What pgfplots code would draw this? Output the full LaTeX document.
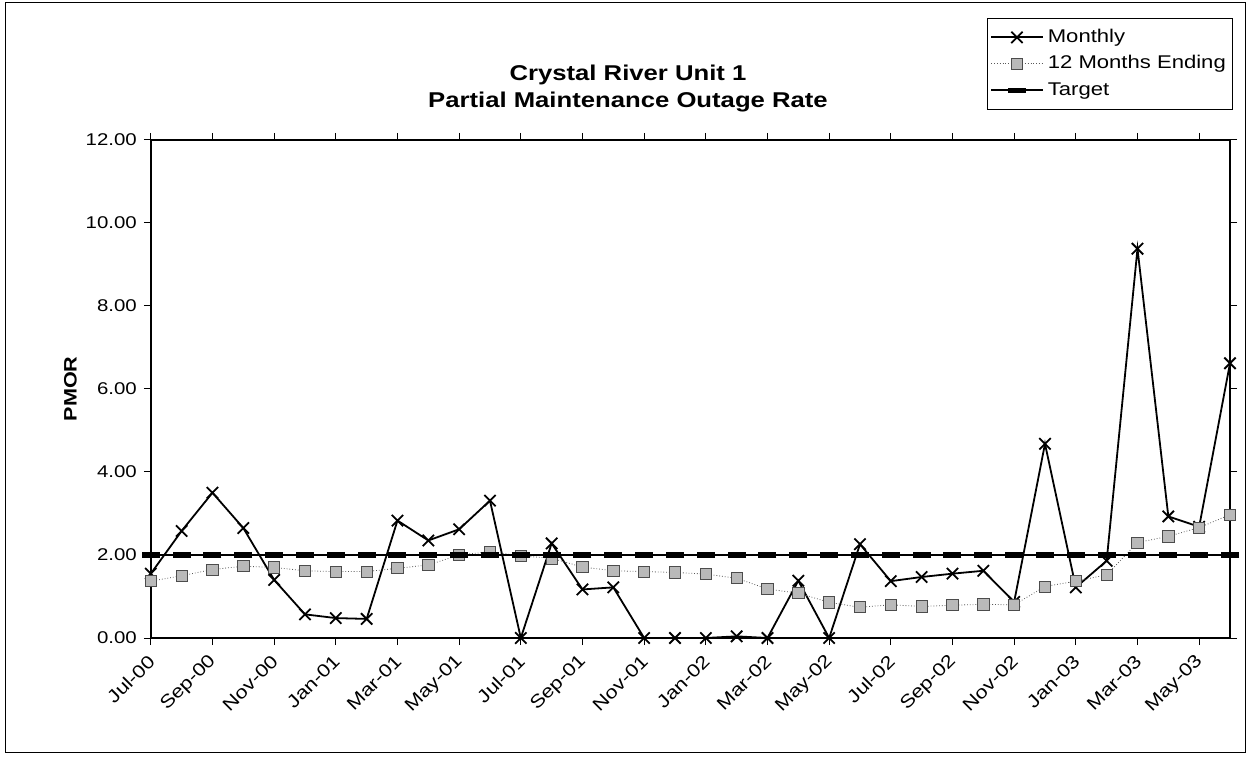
\documentclass[border=0pt]{standalone}
\usepackage{pgfplots}
\pgfplotsset{compat=1.18}
\usepackage{fontspec}
\setmainfont{Liberation Sans}[FakeStretch=1.2]

\begin{document}
\begin{tikzpicture}
\path[use as bounding box] (0,0) rectangle (624.5pt,378pt);
\draw[line width=0.5pt] (2.5pt,2pt) rectangle (622.5pt,376.5pt);

\node[font=\fontsize{10.7}{13.5}\selectfont\bfseries, align=center] at (314pt,333.5pt)
    {Crystal River Unit 1\\Partial Maintenance Outage Rate};

\begin{axis}[
    at={(75.4pt,59pt)}, anchor=south west,
    scale only axis,
    width=539.6pt, height=249pt,
    xmin=0, xmax=35,
    ymin=0, ymax=12,
    xtick={0,2,...,34},
    xticklabels={Jul-00,Sep-00,Nov-00,Jan-01,Mar-01,May-01,Jul-01,Sep-01,Nov-01,
                 Jan-02,Mar-02,May-02,Jul-02,Sep-02,Nov-02,Jan-03,Mar-03,May-03},
    xticklabel style={rotate=45, anchor=east, xshift=-1pt, yshift=-5pt,
                      font=\fontsize{9}{10}\selectfont},
    ytick={0,2,...,12},
    yticklabel style={font=\fontsize{8.5}{10}\selectfont,
        /pgf/number format/.cd, fixed, fixed zerofill, precision=2},
    /pgf/number format/assume math mode=true,
    tick align=outside,
    major tick length=3.5pt,
    tick style={black, line width=0.5pt},
    axis line style={line width=0.7pt},
    ylabel={\bfseries PMOR},
    ylabel style={at={(axis description cs:-0.0745,0.5)}, anchor=center,
                  font=\fontsize{9}{10}\selectfont},
    clip=false,
    legend style={at={(1.003,1.245)}, anchor=north east, draw=black, line width=0.4pt,
                  font=\fontsize{9.2}{11}\selectfont, row sep=3.2pt,
                  inner xsep=1.5pt, inner ysep=4.5pt,
                  nodes={text height=7pt, text depth=2pt, inner ysep=0.5pt, inner xsep=2pt}},
    legend cell align=left,
    legend image code/.code={
        \draw[mark repeat=2, mark phase=2, #1]
            plot coordinates {(0cm,0cm) (0.45cm,0cm) (0.9cm,0cm)};},
]
% Monthly
\addplot[black, line width=0.9pt, mark=x, mark size=4pt,
         mark options={line width=0.9pt}] coordinates {
    (0,1.55) (1,2.58) (2,3.50) (3,2.65) (4,1.40) (5,0.57) (6,0.48) (7,0.46)
    (8,2.83) (9,2.35) (10,2.62) (11,3.31) (12,0.00) (13,2.28) (14,1.17) (15,1.22)
    (16,0.00) (17,0.00) (18,0.00) (19,0.04) (20,0.00) (21,1.38) (22,0.00) (23,2.26)
    (24,1.37) (25,1.47) (26,1.55) (27,1.62) (28,0.87) (29,4.68) (30,1.22) (31,1.86)
    (32,9.38) (33,2.93) (34,2.68) (35,6.62)
};
% 12 months ending
\addplot[gray!70!black, line width=0.4pt, densely dotted, mark=square*, mark size=2.8pt,
         mark options={solid, fill=gray!55, draw=gray!60!black, line width=0.4pt}] coordinates {
    (0,1.37) (1,1.50) (2,1.65) (3,1.73) (4,1.70) (5,1.62) (6,1.60) (7,1.60)
    (8,1.68) (9,1.76) (10,2.00) (11,2.08) (12,1.98) (13,1.92) (14,1.71) (15,1.62)
    (16,1.60) (17,1.58) (18,1.54) (19,1.44) (20,1.18) (21,1.08) (22,0.86) (23,0.74)
    (24,0.80) (25,0.76) (26,0.79) (27,0.81) (28,0.80) (29,1.24) (30,1.37) (31,1.52)
    (32,2.30) (33,2.45) (34,2.66) (35,2.97)
};
% Target
\addplot[black, line width=1.3pt, mark=-, mark size=4.5pt,
         mark options={line width=2.6pt}] coordinates {
    (0,2) (1,2) (2,2) (3,2) (4,2) (5,2) (6,2) (7,2) (8,2) (9,2) (10,2) (11,2)
    (12,2) (13,2) (14,2) (15,2) (16,2) (17,2) (18,2) (19,2) (20,2) (21,2) (22,2) (23,2)
    (24,2) (25,2) (26,2) (27,2) (28,2) (29,2) (30,2) (31,2) (32,2) (33,2) (34,2) (35,2)
};
\legend{Monthly, 12 Months Ending, Target}
\end{axis}
\end{tikzpicture}
\end{document}
